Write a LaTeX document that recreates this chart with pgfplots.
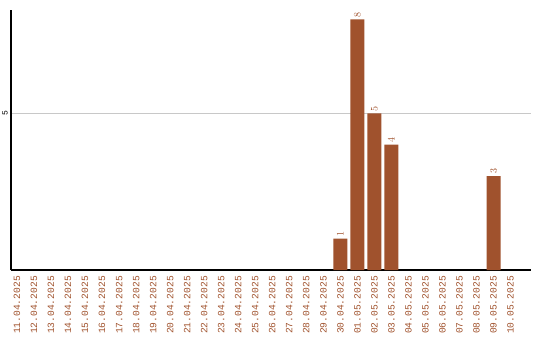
\documentclass[border=0pt]{standalone}
\usepackage{pgfplots}
\pgfplotsset{compat=1.18}
\usepackage{fontspec}
\setmainfont{Liberation Sans}
\newfontfamily\monof{Liberation Mono}
\definecolor{barc}{HTML}{A0522D}
\definecolor{gridc}{HTML}{C8C8C8}
\begin{document}
\begin{tikzpicture}
\useasboundingbox (-11pt,-70pt) rectangle (529pt,270pt);
\begin{axis}[
  scale only axis,
  width=520pt, height=260pt,
  xmin=-0.35, xmax=30.2,
  ymin=0, ymax=8.3,
  axis lines=left,
  axis line style={-, line width=1.2pt, black},
  xtick={0,...,29},
  xticklabels={11.04.2025,12.04.2025,13.04.2025,14.04.2025,15.04.2025,16.04.2025,17.04.2025,18.04.2025,19.04.2025,20.04.2025,21.04.2025,22.04.2025,23.04.2025,24.04.2025,25.04.2025,26.04.2025,27.04.2025,28.04.2025,29.04.2025,30.04.2025,01.05.2025,02.05.2025,03.05.2025,04.05.2025,05.05.2025,06.05.2025,07.05.2025,08.05.2025,09.05.2025,10.05.2025},
  xticklabel style={rotate=90, anchor=east, inner sep=0pt, inner xsep=6pt, font=\monof\fontsize{9.6}{10}\selectfont, text=barc},
  ytick={5},
  yticklabels={5},
  yticklabel style={rotate=90, anchor=south, inner sep=0pt, inner ysep=3pt, font=\monof\fontsize{8}{8}\selectfont},
  major tick length=0pt,
  ymajorgrids=true,
  grid style={gridc, line width=0.8pt},
  ybar, bar width=14pt,
  clip=false,
]
\addplot[fill=barc, draw=none,
  nodes near coords,
  every node near coord/.style={rotate=90, anchor=west, inner sep=0pt, inner xsep=2pt, font=\monof\fontsize{10}{10}\selectfont, text=barc, color=barc}]
  coordinates {(19,1) (20,8) (21,5) (22,4) (28,3)};
\end{axis}
\end{tikzpicture}
\end{document}
